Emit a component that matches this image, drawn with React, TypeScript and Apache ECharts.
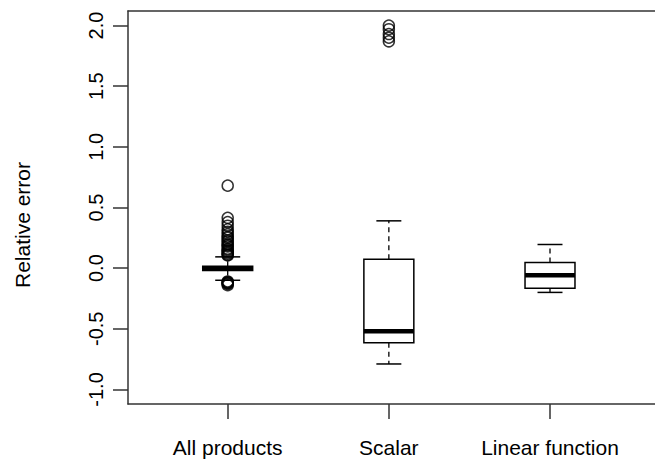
import React, { useEffect, useRef } from "react";
import * as echarts from "echarts";

const categories = ["All products", "Scalar", "Linear function"];
const positions = [1, 2, 3];
const lowerWhisker = [-0.1, -0.79, -0.2];
const q1 = [-0.02, -0.615, -0.165];
const median = [0.0, -0.52, -0.058];
const q3 = [0.015, 0.074, 0.047];
const upperWhisker = [0.093, 0.39, 0.195];
const outliersAll = [
  0.68, 0.415, 0.38, 0.35, 0.32, 0.3, 0.28, 0.26, 0.25, 0.23, 0.22, 0.2,
  0.19, 0.18, 0.16, 0.15, 0.14, 0.13, 0.12, 0.11, 0.105,
  -0.11, -0.115, -0.12, -0.125, -0.13, -0.14,
];
const outliersScalar = [2.0, 1.97, 1.93, 1.9, 1.87];
const outliersLinear: number[] = [];
const yTicks = [-1, -0.5, 0, 0.5, 1, 1.5, 2];

const FONT = "'Liberation Sans', Arial, sans-serif";

export default function App() {
  const ref = useRef<HTMLDivElement>(null);
  useEffect(() => {
    document.body.style.margin = "0";
    const chart = echarts.init(ref.current!, null, { renderer: "svg" });
    const boxData = positions.map((p, i) => [
      p,
      lowerWhisker[i],
      q1[i],
      median[i],
      q3[i],
      upperWhisker[i],
    ]);
    const outlierData: number[][] = [];
    [outliersAll, outliersScalar, outliersLinear].forEach((arr, i) =>
      arr.forEach((v) => outlierData.push([positions[i], v]))
    );
    const xMin = 0.3813;
    const xMax = 0.3813 + 527 / 161.15;
    const axisColor = "#333";
    chart.setOption({
      animation: false,
      grid: { left: 128, right: 0, top: 11, bottom: 60, containLabel: false },
      xAxis: [
        {
          type: "value",
          min: xMin,
          max: xMax,
          position: "bottom",
          splitLine: { show: false },
          axisLine: { show: true, onZero: false, lineStyle: { color: axisColor, width: 1.5 } },
          axisTick: {
            show: true,
            length: 15,
            customValues: positions,
            lineStyle: { color: axisColor, width: 1.5 },
          },
          axisLabel: {
            show: true,
            customValues: positions,
            formatter: (v: number) => categories[Math.round(v) - 1] ?? "",
            fontSize: 21,
            fontFamily: FONT,
            color: "#000",
            margin: 33,
          },
        },
        {
          type: "value",
          min: xMin,
          max: xMax,
          position: "top",
          splitLine: { show: false },
          axisLine: { show: true, onZero: false, lineStyle: { color: axisColor, width: 1.5 } },
          axisTick: { show: false },
          axisLabel: { show: false },
        },
      ],
      yAxis: {
        type: "value",
        min: -1.12,
        max: 2.12,
        splitLine: { show: false },
        axisLine: { show: true, onZero: false, lineStyle: { color: axisColor, width: 1.5 } },
        axisTick: {
          show: true,
          length: 15,
          customValues: yTicks,
          lineStyle: { color: axisColor, width: 1.5 },
        },
        axisLabel: {
          show: true,
          customValues: yTicks,
          rotate: 90,
          formatter: (v: number) => v.toFixed(1),
          fontSize: 20,
          fontFamily: FONT,
          color: "#000",
          margin: 22,
        },
      },
      graphic: [
        {
          type: "text",
          x: 22,
          y: 225,
          rotation: Math.PI / 2,
          style: {
            text: "Relative error",
            fontSize: 21,
            fontFamily: FONT,
            fill: "#000",
            align: "center",
            verticalAlign: "middle",
          },
        },
      ],
      series: [
        {
          type: "custom",
          xAxisIndex: 0,
          data: boxData,
          encode: { x: 0, y: [1, 2, 3, 4, 5] },
          renderItem: (params: any, api: any) => {
            const x = api.value(0);
            const lo = api.coord([x, api.value(1)]);
            const b1 = api.coord([x, api.value(2)]);
            const md = api.coord([x, api.value(3)]);
            const b3 = api.coord([x, api.value(4)]);
            const hi = api.coord([x, api.value(5)]);
            const hw = api.size([0.155, 0])[0];
            const cw = hw / 2;
            const cx = lo[0];
            const stroke = { stroke: "#000", lineWidth: 1.5, fill: null };
            const dashed = { stroke: "#000", lineWidth: 1.3, lineDash: [5, 4] };
            return {
              type: "group",
              children: [
                { type: "line", shape: { x1: cx, y1: b3[1], x2: cx, y2: hi[1] }, style: dashed },
                { type: "line", shape: { x1: cx, y1: b1[1], x2: cx, y2: lo[1] }, style: dashed },
                { type: "line", shape: { x1: cx - cw, y1: hi[1], x2: cx + cw, y2: hi[1] }, style: stroke },
                { type: "line", shape: { x1: cx - cw, y1: lo[1], x2: cx + cw, y2: lo[1] }, style: stroke },
                {
                  type: "rect",
                  shape: { x: cx - hw, y: b3[1], width: 2 * hw, height: b1[1] - b3[1] },
                  style: { stroke: "#000", lineWidth: 1.5, fill: "#fff" },
                },
                {
                  type: "line",
                  shape: { x1: cx - hw, y1: md[1], x2: cx + hw, y2: md[1] },
                  style: { stroke: "#000", lineWidth: 4.5 },
                },
              ],
            };
          },
        },
        {
          type: "scatter",
          xAxisIndex: 0,
          data: outlierData,
          symbol: "circle",
          symbolSize: 11,
          itemStyle: { color: "rgba(0,0,0,0)", borderColor: "#000", borderWidth: 1.5 },
        },
      ],
    });
    return () => chart.dispose();
  }, []);
  return <div ref={ref} style={{ width: 655, height: 464 }} />;
}
